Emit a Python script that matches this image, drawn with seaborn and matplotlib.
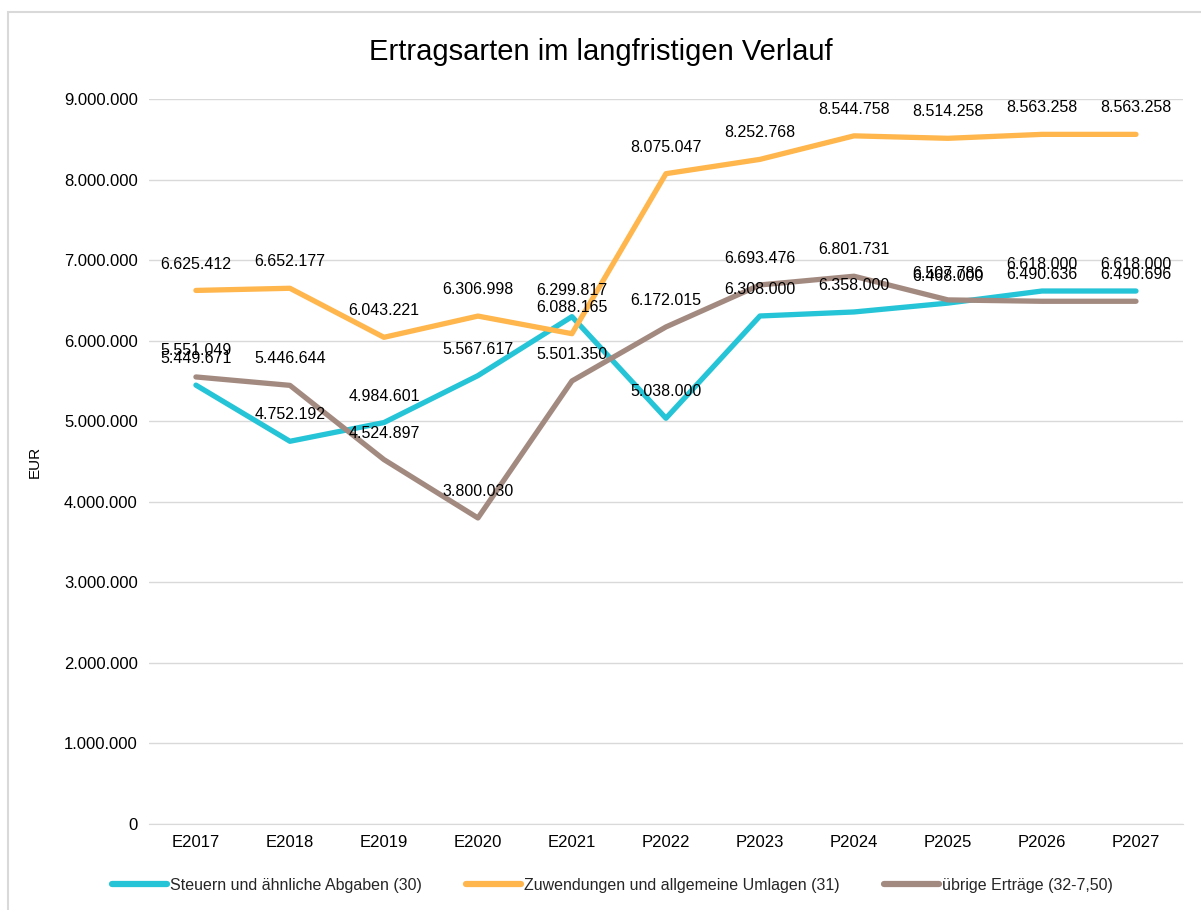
import pandas as pd
import matplotlib.pyplot as plt
import matplotlib.ticker as mticker
import seaborn as sns
from matplotlib.patches import Rectangle

years = ['E2017', 'E2018', 'E2019', 'E2020', 'E2021', 'P2022',
         'P2023', 'P2024', 'P2025', 'P2026', 'P2027']

steuern = [5449671, 4752192, 4984601, 5567617, 6299817, 5038000,
           6308000, 6358000, 6468000, 6618000, 6618000]
zuwendungen = [6625412, 6652177, 6043221, 6306998, 6088165, 8075047,
               8252768, 8544758, 8514258, 8563258, 8563258]
uebrige = [5551049, 5446644, 4524897, 3800030, 5501350, 6172015,
           6693476, 6801731, 6507786, 6490636, 6490696]

names = ['Steuern und ähnliche Abgaben (30)',
         'Zuwendungen und allgemeine Umlagen (31)',
         'übrige Erträge (32-7,50)']
colors = ['#25C4D6', '#FFB64C', '#A38A80']


def fmt(v):
    return f'{v:,.0f}'.replace(',', '.')


sns.set_style('white')
plt.rcParams['font.family'] = ['Liberation Sans', 'DejaVu Sans']

df = pd.concat([
    pd.DataFrame({'Jahr': years, 'EUR': steuern, 'Art': names[0]}),
    pd.DataFrame({'Jahr': years, 'EUR': zuwendungen, 'Art': names[1]}),
    pd.DataFrame({'Jahr': years, 'EUR': uebrige, 'Art': names[2]}),
])

fig = plt.figure(figsize=(12.01, 9.10), dpi=100)
ax = fig.add_axes([0.124, 0.0945, 0.861, 0.7965])

sns.lineplot(data=df, x='Jahr', y='EUR', hue='Art', palette=colors,
             linewidth=3.8, sort=False, ax=ax, legend=True)

# data labels (overlaps are as in the original)
for vals in [steuern, zuwendungen, uebrige]:
    for i, v in enumerate(vals):
        ax.annotate(fmt(v), (i, v), xytext=(0, 19), textcoords='offset points',
                    ha='center', va='center', fontsize=11.5, color='#000000')

ax.set_xlim(-0.5, len(years) - 0.5)
ax.set_ylim(0, 9000000)
ax.yaxis.set_major_locator(mticker.MultipleLocator(1000000))
ax.yaxis.set_major_formatter(mticker.FuncFormatter(lambda v, p: fmt(v)))
ax.grid(axis='y', color='#D9D9D9', linewidth=1)
ax.set_axisbelow(True)
for s in ['top', 'right', 'left']:
    ax.spines[s].set_visible(False)
ax.spines['bottom'].set_color('#D9D9D9')
ax.tick_params(axis='both', length=0, labelsize=12, pad=8, labelcolor='#000000')
ax.set_xlabel('')
ax.set_ylabel('EUR', fontsize=11, labelpad=16, color='#000000')

fig.suptitle('Ertragsarten im langfristigen Verlauf', fontsize=21, y=0.958,
             color='#000000')

ax.legend(loc='center', bbox_to_anchor=(0.51, 0.027), bbox_transform=fig.transFigure,
          ncol=3, frameon=False, fontsize=11.5, handlelength=3.4,
          handletextpad=0.2, columnspacing=2.8)
for line in ax.get_legend().get_lines():
    line.set_linewidth(4.5)

fig.patches.append(Rectangle((8 / 1201, -0.01), 1.0, 1 - 12 / 910 + 0.01,
                             transform=fig.transFigure, fill=False,
                             edgecolor='#D9D9D9', linewidth=1.5))

fig.savefig('out.png', dpi=100)
